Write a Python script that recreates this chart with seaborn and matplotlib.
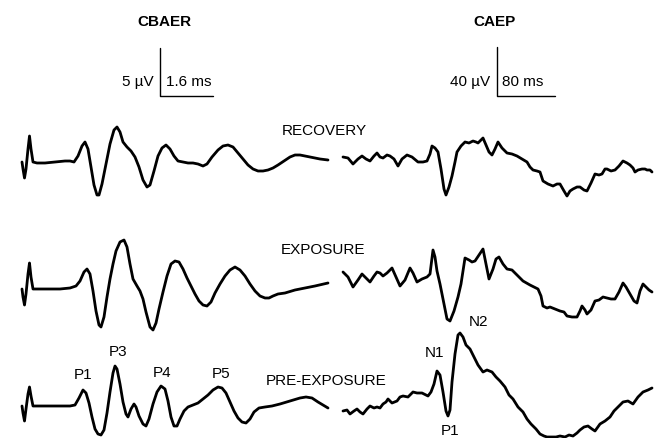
import matplotlib
matplotlib.use("Agg")
import matplotlib.pyplot as plt
import seaborn as sns
import pandas as pd

# ---------------- data (traced waveform samples) ----------------
# CBAER (brainstem) traces: time samples and deflection (screen units, down = larger)
cbaer_recovery_t = [22, 23, 24.5, 26, 28, 29.5, 31, 33, 37, 45, 55, 65, 70, 74, 78, 82, 85, 88, 91, 94, 97, 99, 102, 106, 110, 114, 117, 120, 123, 127, 131, 135, 139, 143, 147, 150, 154, 158, 162, 166, 170, 174, 178, 183, 188, 193, 198, 203, 207, 212, 218, 223, 228, 233, 238, 243, 248, 253, 258, 263, 268, 273, 278, 284, 290, 295, 300, 305, 310, 315, 320, 328]
cbaer_recovery_v = [163, 170, 179, 170, 150, 137, 150, 163, 164, 164, 163, 162, 162, 163, 157, 147, 143, 150, 168, 186, 196, 196, 185, 165, 145, 131, 128, 133, 143, 148, 152, 158, 168, 181, 188, 186, 172, 157, 149, 146, 150, 157, 162, 163, 164, 164, 165, 167, 165, 158, 151, 147, 146, 148, 154, 160, 166, 170, 172, 172, 171, 169, 166, 162, 158, 156, 156, 157, 158, 159, 160, 161]

cbaer_exposure_t = [22, 23, 24.5, 26, 28, 29.5, 31, 33, 40, 50, 60, 70, 76, 80, 84, 87, 90, 93, 96, 99, 101, 104, 107, 110, 113, 116, 120, 124, 127, 130, 133, 137, 140, 143, 146, 150, 153, 156, 159, 163, 167, 171, 175, 179, 183, 187, 191, 195, 199, 203, 207, 211, 215, 220, 225, 230, 235, 240, 245, 250, 255, 260, 265, 269, 273, 278, 285, 295, 305, 315, 328]
cbaer_exposure_v = [290, 298, 306, 295, 275, 264, 278, 290, 290, 290, 290, 289, 287, 282, 273, 270, 275, 292, 312, 326, 328, 318, 298, 280, 265, 252, 243, 241, 248, 265, 280, 287, 292, 300, 313, 328, 331, 324, 310, 293, 277, 265, 262, 263, 270, 279, 287, 295, 302, 306, 307, 303, 294, 285, 277, 271, 268, 271, 277, 285, 292, 297, 299, 299, 297, 295, 294, 291, 289, 287, 284]

cbaer_pre_t = [22, 23, 24.5, 26, 28, 29.5, 31, 33, 40, 55, 70, 75, 79, 83, 86, 89, 92, 95, 98, 101, 104, 107, 110, 113, 115, 117, 120, 123, 126, 128, 131, 134, 136, 139, 143, 146, 149, 153, 157, 161, 165, 168, 171, 174, 177, 180, 184, 188, 193, 198, 203, 208, 213, 218, 222, 226, 230, 234, 238, 242, 246, 250, 254, 259, 265, 272, 280, 290, 300, 306, 312, 318, 328]
cbaer_pre_v = [407, 414, 422, 410, 395, 388, 397, 407, 407, 407, 407, 406, 399, 391, 394, 404, 418, 430, 435, 436, 431, 414, 393, 374, 367, 370, 385, 403, 415, 418, 410, 405, 408, 417, 425, 427, 420, 405, 393, 387, 390, 402, 418, 427, 427, 420, 412, 408, 406, 404, 400, 396, 391, 388, 389, 394, 403, 412, 419, 423, 424, 420, 413, 409, 408, 407, 405, 402, 399, 398, 399, 403, 409]

# CAEP (cortical) traces
caep_recovery_t = [343, 348, 353, 358, 362, 366, 370, 374, 377, 380, 383, 387, 390, 394, 398, 402, 407, 412, 418, 423, 427, 430, 432, 435, 438, 441, 444, 446, 449, 452, 455, 457, 461, 465, 469, 473, 476, 478, 481, 483, 486, 489, 492, 495, 498, 502, 507, 512, 517, 522, 527, 530, 533, 537, 540, 543, 548, 553, 557, 560, 564, 567, 570, 573, 577, 580, 584, 587, 591, 595, 599, 602, 605, 607, 611, 615, 619, 623, 627, 630, 633, 635, 638, 642, 645, 647, 650, 652]
caep_recovery_v = [158, 159, 165, 160, 157, 160, 162, 157, 154, 158, 159, 156, 157, 160, 167, 160, 156, 158, 163, 163, 162, 155, 147, 149, 153, 170, 190, 196, 188, 177, 163, 153, 147, 143, 144, 142, 143, 144, 141, 139, 146, 153, 156, 150, 143, 149, 154, 155, 157, 160, 163, 168, 171, 172, 173, 182, 185, 187, 185, 185, 192, 197, 192, 190, 188, 188, 191, 192, 184, 175, 176, 175, 170, 170, 172, 171, 167, 162, 164, 166, 169, 173, 171, 170, 170, 171, 171, 173]

caep_exposure_t = [343, 348, 353, 358, 362, 366, 370, 374, 377, 380, 383, 387, 392, 396, 400, 405, 410, 413, 417, 422, 427, 430, 433, 435, 437, 440, 444, 447, 450, 454, 458, 461, 465, 469, 472, 475, 479, 483, 486, 489, 493, 496, 499, 503, 507, 512, 517, 523, 530, 538, 541, 543, 547, 550, 555, 560, 564, 567, 572, 577, 580, 582, 585, 587, 591, 595, 599, 603, 607, 611, 615, 619, 623, 626, 630, 634, 637, 640, 643, 646, 649, 652]
caep_exposure_v = [273, 278, 288, 281, 275, 279, 283, 277, 273, 274, 277, 274, 269, 278, 287, 281, 269, 274, 283, 280, 278, 275, 251, 258, 272, 285, 305, 320, 322, 312, 298, 285, 259, 261, 263, 262, 256, 250, 265, 280, 270, 260, 258, 265, 270, 271, 276, 282, 286, 290, 297, 307, 309, 308, 310, 312, 313, 317, 318, 318, 312, 307, 311, 315, 311, 302, 301, 298, 299, 300, 300, 293, 284, 288, 295, 302, 304, 292, 285, 288, 291, 293]

caep_pre_t = [343, 347, 350, 354, 357, 360, 363, 367, 370, 374, 377, 380, 383, 386, 388, 392, 397, 400, 403, 408, 413, 417, 422, 428, 431, 434, 437, 440, 443, 446, 448, 450, 452, 455, 458, 460, 463, 466, 470, 474, 478, 483, 487, 492, 496, 500, 505, 509, 513, 518, 523, 527, 531, 536, 540, 544, 547, 551, 556, 560, 565, 569, 573, 577, 580, 584, 588, 592, 595, 600, 605, 610, 614, 618, 623, 628, 633, 638, 643, 648, 652]
caep_pre_v = [412, 411, 415, 412, 410, 413, 415, 410, 407, 409, 408, 409, 405, 403, 400, 404, 402, 398, 397, 398, 393, 394, 394, 397, 393, 385, 372, 376, 393, 412, 417, 411, 383, 355, 336, 334, 338, 346, 350, 358, 366, 373, 371, 373, 378, 382, 388, 396, 400, 408, 413, 420, 425, 430, 435, 437, 438, 438, 438, 437, 438, 436, 437, 434, 431, 428, 427, 430, 432, 425, 422, 418, 412, 408, 403, 402, 405, 398, 393, 391, 389]

traces = {
    "CBAER recovery": (cbaer_recovery_t, cbaer_recovery_v),
    "CBAER exposure": (cbaer_exposure_t, cbaer_exposure_v),
    "CBAER pre-exposure": (cbaer_pre_t, cbaer_pre_v),
    "CAEP recovery": (caep_recovery_t, caep_recovery_v),
    "CAEP exposure": (caep_exposure_t, caep_exposure_v),
    "CAEP pre-exposure": (caep_pre_t, caep_pre_v),
}

condition_labels = ["RECOVERY", "EXPOSURE", "PRE-EXPOSURE"]
cbaer_peaks = ["P1", "P3", "P4", "P5"]
caep_peaks = ["N1", "N2", "P1"]

# ---------------- plotting ----------------
sns.set_theme(style="white")
plt.rcParams["font.family"] = ["Liberation Sans", "DejaVu Sans"]
plt.rcParams["text.color"] = "black"

W, H = 659, 439
fig = plt.figure(figsize=(W / 100, H / 100), dpi=100)
ax = fig.add_axes([0, 0, 1, 1])

for name, (t, v) in traces.items():
    df = pd.DataFrame({"t": t, "v": v})
    sns.lineplot(data=df, x="t", y="v", ax=ax, sort=False, estimator=None,
                 color="black", linewidth=2.0, solid_joinstyle="round",
                 solid_capstyle="round")

ax.set_xlim(0, W)
ax.set_ylim(H, 0)
ax.axis("off")

fs = 11
tkw = dict(fontsize=fs, color="black")
# Titles
ax.text(164, 22, "CBAER", ha="center", va="center", fontweight="bold", **tkw)
ax.text(495, 22, "CAEP", ha="center", va="center", fontweight="bold", **tkw)

# Scale bars
ax.plot([160, 160, 213], [49, 97, 97], color="black", lw=1.0)
ax.plot([497, 497, 555], [48, 97, 97], color="black", lw=1.0)
ax.text(154, 82, "5 \u00b5V", ha="right", va="center", **tkw)
ax.text(166, 82, "1.6 ms", ha="left", va="center", **tkw)
ax.text(490, 82, "40 \u00b5V", ha="right", va="center", **tkw)
ax.text(502, 82, "80 ms", ha="left", va="center", **tkw)

# Condition labels
for lab, (x, y) in zip(condition_labels, [(324, 131), (323, 250), (326, 381)]):
    ax.text(x, y, lab, ha="center", va="center", **tkw)

# Peak labels
for lab, (x, y) in zip(cbaer_peaks, [(83, 375), (118, 352), (162, 373), (221, 374)]):
    ax.text(x, y, lab, ha="center", va="center", **tkw)
for lab, (x, y) in zip(caep_peaks, [(435, 353), (478, 322), (450, 431)]):
    ax.text(x, y, lab, ha="center", va="center", **tkw)

fig.savefig("out.png", dpi=100)
